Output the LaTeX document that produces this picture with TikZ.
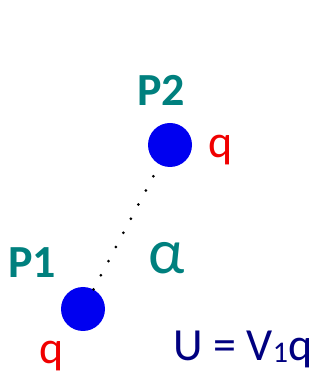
\documentclass[tikz,border=0pt]{standalone}
\usepackage{fontspec}
\setmainfont{Carlito}
\usepackage{xcolor}
\definecolor{cPoint}{HTML}{0000F0}
\definecolor{cLabel}{HTML}{00807E}
\definecolor{cCharge}{HTML}{F00000}
\definecolor{cFormula}{HTML}{000080}
\usetikzlibrary{positioning}
\tikzset{
  node-charge/.style={circle,fill=cPoint,inner sep=0pt,minimum size=44pt},
  node-name/.style={text=cLabel,font=\fontsize{46}{46}\selectfont\bfseries,inner sep=0pt},
  node-q/.style={text=cCharge,font=\fontsize{46}{46}\selectfont,inner sep=0pt},
  link-dotted/.style={line width=3pt,line cap=round,dash pattern=on 0pt off 16pt},
}
\begin{document}
\begin{tikzpicture}[x=1pt,y=1pt]
  \useasboundingbox (0,0) rectangle (321,375);
  % the two point charges
  \node[node-charge] (P1) at (83,66) {};
  \node[node-charge] (P2) at (170,230) {};
  \draw[link-dotted] (P1) -- (P2);
  % labels
  \node[node-name] (lP2) at (161,285) {P2};
  \node[node-name] (lP1) at (32,112) {P1};
  \node[node-q,right=16pt of P2,yshift=-5pt] (q2) {q};
  \node[node-q] (q1) at (52,19) {q};
  \node[text=cLabel,font=\fontsize{64}{64}\selectfont,inner sep=0pt] (alpha) at (167,117) {α};
  \node[text=cFormula,font=\fontsize{46}{46}\selectfont,inner sep=0pt,anchor=base] (U) at (243,15)
    {U = V\raisebox{-2pt}{\fontsize{30}{30}\selectfont 1}q};
\end{tikzpicture}
\end{document}
